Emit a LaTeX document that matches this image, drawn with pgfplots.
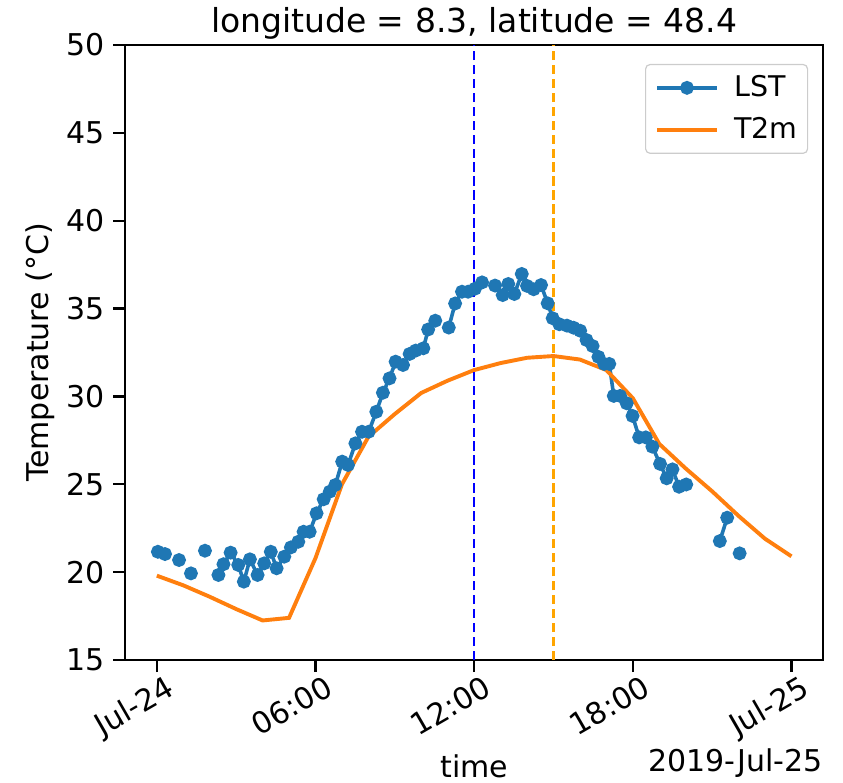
\documentclass[border=0pt]{standalone}
\usepackage{fontspec}
\setmainfont{DejaVu Sans}
\usepackage{pgfplots}
\pgfplotsset{compat=1.18}
\definecolor{tabblue}{HTML}{1F77B4}
\definecolor{taborange}{HTML}{FF7F0E}
\definecolor{mplorange}{HTML}{FFA500}

\begin{document}
\begin{tikzpicture}
\path[use as bounding box] (-41.7pt,-40.7pt) rectangle (239.3pt,220pt);
\begin{axis}[
  name=ax,
  scale only axis, width=232.7pt, height=205pt,
  xmin=-1.2, xmax=25.2, ymin=15, ymax=50,
  xtick={0,6,12,18,24},
  xticklabels={Jul-24,06:00,12:00,18:00,Jul-25},
  ytick={15,20,...,50},
  tick pos=left, tick align=outside, major tick length=4pt,
  tick style={line width=0.8pt, black},
  axis line style={line width=0.8pt},
  /pgf/number format/assume math mode=true,
  ticklabel style={font=\fontsize{10}{12}\selectfont},
  xticklabel style={xshift=2.8pt, yshift=-0.5pt, rotate=30, anchor=north east, inner sep=0pt},
  yticklabel style={inner sep=0pt, xshift=-2.7pt},
  every axis title shift=0pt,
  title={longitude = 8.3, latitude = 48.4},
  title style={at={(axis description cs:0.5,1)}, anchor=base, yshift=4.3pt, font=\fontsize{11}{13}\selectfont},
  xlabel={time},
  xlabel style={at={(axis description cs:0.5,0)}, anchor=base, yshift=-39pt, font=\fontsize{10}{12}\selectfont},
  ylabel={Temperature (°C)},
  ylabel style={at={(axis description cs:-0.1216,0.5)}, anchor=center, font=\fontsize{10}{12}\selectfont},
  unbounded coords=jump,
  legend cell align=left,
  legend image code/.code={%
    \draw[mark repeat=2,mark phase=2,#1] plot coordinates {(0pt,0pt) (9.85pt,0pt) (19.7pt,0pt)};
    \path (25pt,0pt);},
  legend style={at={(1,1)}, anchor=north east, xshift=-5pt, yshift=-6.3pt,
    draw=black!20, rounded corners=1.5pt, font=\fontsize{9.5}{11}\selectfont,
    inner xsep=3.3pt, inner ysep=3.5pt, row sep=5.5pt,
    nodes={inner sep=0pt}, cells={anchor=west}},
]
\addplot[tabblue, line width=1.2pt, mark=*, mark size=1.7pt] coordinates {
(0.04,21.16) (0.31,21.03) (0.5,nan) (0.84,20.69) (1.0,nan) (1.29,19.93) (1.5,nan)
(1.82,21.22) (2.0,nan)
(2.33,19.84) (2.52,20.45) (2.79,21.11) (3.08,20.41) (3.29,19.46) (3.52,20.73)
(3.81,19.84) (4.06,20.50) (4.31,21.16) (4.53,20.22) (4.82,20.88) (5.07,21.41)
(5.35,21.73) (5.55,22.30) (5.78,22.30) (6.04,23.35) (6.31,24.15) (6.54,24.58)
(6.75,24.96) (7.01,26.29) (7.23,26.10) (7.51,27.33) (7.76,27.99) (8.01,27.99)
(8.30,29.13) (8.55,30.21) (8.80,31.03) (9.03,31.98) (9.31,31.79) (9.56,32.42)
(9.79,32.61) (10.08,32.74) (10.26,33.81) (10.53,34.31) (10.8,nan)
(11.04,33.92) (11.28,35.29) (11.54,35.96) (11.77,35.96) (12.03,36.13) (12.30,36.49)
(12.5,nan)
(12.79,36.31) (13.08,35.77) (13.29,36.40) (13.52,35.83) (13.80,36.97) (14.00,36.29)
(14.25,36.10) (14.53,36.34) (14.78,35.30) (14.97,34.45) (15.22,34.11) (15.51,34.03)
(15.76,33.91) (16.01,33.74) (16.25,33.21) (16.48,32.87) (16.70,32.25) (16.92,31.85)
(17.11,31.85) (17.28,30.03) (17.52,30.03) (17.77,29.61) (17.99,28.89) (18.24,27.67)
(18.49,27.67) (18.74,27.14) (19.03,26.16) (19.28,25.34) (19.50,25.85) (19.75,24.86)
(20.02,24.99) (20.5,nan)
(21.29,21.77) (21.57,23.10) (21.8,nan)
(22.04,21.07)
};
\addlegendentry{LST}
\addplot[taborange, line width=1.3pt] coordinates {
(0,19.8) (1,19.25) (2,18.6) (3,17.9) (4,17.25) (5,17.4) (6,20.8) (7,25.0)
(8,27.7) (9,29.0) (10,30.2) (11,30.9) (12,31.5) (13,31.9) (14,32.2) (15,32.3)
(16,32.1) (17,31.5) (18,29.9) (19,27.3) (20,25.9) (21,24.6) (22,23.2) (23,21.9)
(24,20.9)
};
\addlegendentry{T2m}
\addplot[blue, line width=0.75pt, dash pattern=on 3.1pt off 1.55pt, forget plot] coordinates {(12,15) (12,50)};
\addplot[mplorange, line width=0.75pt, dash pattern=on 3.1pt off 1.55pt, forget plot] coordinates {(15,15) (15,50)};
\end{axis}
\node[anchor=base east, inner sep=0pt, font=\fontsize{10}{12}\selectfont] at ([yshift=-37.3pt]ax.south east) {2019-Jul-25};
\end{tikzpicture}
\end{document}
